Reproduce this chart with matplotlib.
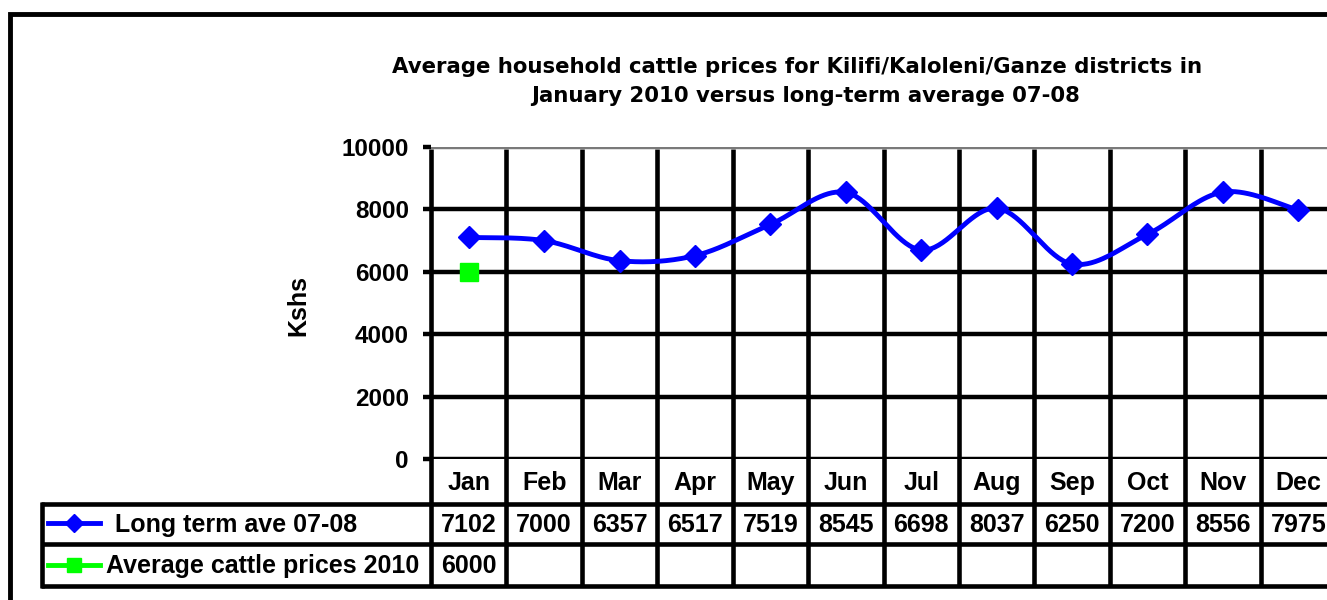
import numpy as np
import matplotlib
matplotlib.use('Agg')
import matplotlib.pyplot as plt
from matplotlib.transforms import blended_transform_factory as btf

months = ['Jan', 'Feb', 'Mar', 'Apr', 'May', 'Jun', 'Jul', 'Aug', 'Sep', 'Oct', 'Nov', 'Dec']
long_term = [7102, 7000, 6357, 6517, 7519, 8545, 6698, 8037, 6250, 7200, 8556, 7975]
cattle_2010 = [6000]
series_labels = ['Long term ave 07-08', 'Average cattle prices 2010']
title_lines = ['Average household cattle prices for Kilifi/Kaloleni/Ganze districts in',
               'January 2010 versus long-term average 07-08']
y_label = 'Kshs'
yticks = [0, 2000, 4000, 6000, 8000, 10000]

plt.rcParams['font.family'] = ['Liberation Sans', 'DejaVu Sans']
plt.rcParams['font.weight'] = 'bold'

BLUE = '#0000FF'
GREEN = '#00FF00'
FS = 18
FS_TICK = 17.5

W, H = 1327, 600
fig = plt.figure(figsize=(W / 100, H / 100), dpi=100)
fig.patch.set_facecolor('white')

over = fig.add_axes([0, 0, 1, 1])
over.set_xlim(0, W)
over.set_ylim(H, 0)
over.axis('off')

L, R, T, B = 431, 1336, 147, 459
ax = fig.add_axes([L / W, (H - B) / H, (R - L) / W, (B - T) / H])
ax.patch.set_alpha(0)
ax.set_xlim(-0.5, len(months) - 0.5)
ax.set_ylim(0, 10000)
for s in ax.spines.values():
    s.set_visible(False)
ax.set_xticks([])
ax.set_yticks(yticks)
ax.set_yticklabels([str(v) for v in yticks], fontsize=FS_TICK, fontweight='bold')
ax.tick_params(axis='y', length=6, width=3.2, color='black', pad=10)

# horizontal gridlines
for v in yticks:
    col = '#7a7a7a' if v == yticks[-1] else 'black'
    ax.axhline(v, color=col, lw=3.2, zorder=1)

# blended transform: x in data, y in pixels
bt = btf(ax.transData, over.transData)
TABLE_BOTTOM = 585.5
for i in range(len(months) + 1):
    over.plot([i - 0.5, i - 0.5], [T + 2, TABLE_BOTTOM], color='black', lw=3.3,
              transform=bt, solid_capstyle='butt', zorder=2)

# table horizontal lines
for yy in (503.5, 544, TABLE_BOTTOM):
    over.plot([40.5, W], [yy, yy], color='black', lw=3.3, solid_capstyle='butt', zorder=2)
over.plot([42, 42], [501.5, 587.5], color='black', lw=3.3, solid_capstyle='butt', zorder=2)


# smooth line (Excel-like Bezier smoothing)
def smooth(y, n=40):
    x = np.arange(len(y), dtype=float)
    P = np.column_stack([x, np.asarray(y, float)])
    Pe = np.vstack([P[0], P, P[-1]])
    t = np.linspace(0, 1, n)[:, None]
    segs = []
    for i in range(len(P) - 1):
        p0, p1, p2, p3 = Pe[i], Pe[i + 1], Pe[i + 2], Pe[i + 3]
        c1 = p1 + (p2 - p0) / 6
        c2 = p2 - (p3 - p1) / 6
        segs.append((1 - t) ** 3 * p1 + 3 * (1 - t) ** 2 * t * c1
                    + 3 * (1 - t) * t ** 2 * c2 + t ** 3 * p2)
    return np.vstack(segs)


curve = smooth(long_term)
ax.plot(curve[:, 0], curve[:, 1], color=BLUE, lw=3.5, zorder=4, clip_on=False)
ax.plot(range(len(long_term)), long_term, ls='none', marker='D', ms=11.5,
        color=BLUE, zorder=5, clip_on=False)
ax.plot(range(len(cattle_2010)), cattle_2010, ls='none', marker='s', ms=13,
        color=GREEN, zorder=5, clip_on=False)

# table text
for i, m in enumerate(months):
    over.text(i, 490, m, transform=bt, ha='center', va='baseline', fontsize=FS, fontweight='bold')
for i, v in enumerate(long_term):
    over.text(i, 532, str(v), transform=bt, ha='center', va='baseline', fontsize=FS, fontweight='bold')
for i, v in enumerate(cattle_2010):
    over.text(i, 573, str(v), transform=bt, ha='center', va='baseline', fontsize=FS, fontweight='bold')

# legend keys in table
over.plot([48, 100], [523, 523], color=BLUE, lw=3.5, zorder=3)
over.plot([74], [523], marker='D', ms=9.5, color=BLUE, zorder=4)
over.plot([48, 100], [565, 565], color=GREEN, lw=3.5, zorder=3)
over.plot([74], [565], marker='s', ms=10, color=GREEN, zorder=4)
over.text(115, 532, series_labels[0], ha='left', va='baseline', fontsize=FS, fontweight='bold')
over.text(106, 573, series_labels[1], ha='left', va='baseline', fontsize=FS, fontweight='bold')

# y label and title
over.text(298, 306, y_label, rotation=90, ha='center', va='center', fontsize=FS, fontweight='bold')
over.text(797, 73, title_lines[0], ha='center', va='baseline', fontsize=15.3,
          fontweight='bold', family=['DejaVu Sans'])
over.text(806, 102, title_lines[1], ha='center', va='baseline', fontsize=15.3,
          fontweight='bold', family=['DejaVu Sans'])

# outer chart border
over.plot([9.5, 9.5, W + 5], [H + 5, 13.5, 13.5], color='black', lw=3.5, solid_joinstyle='miter')

fig.savefig('out.png', dpi=100, facecolor='white')
